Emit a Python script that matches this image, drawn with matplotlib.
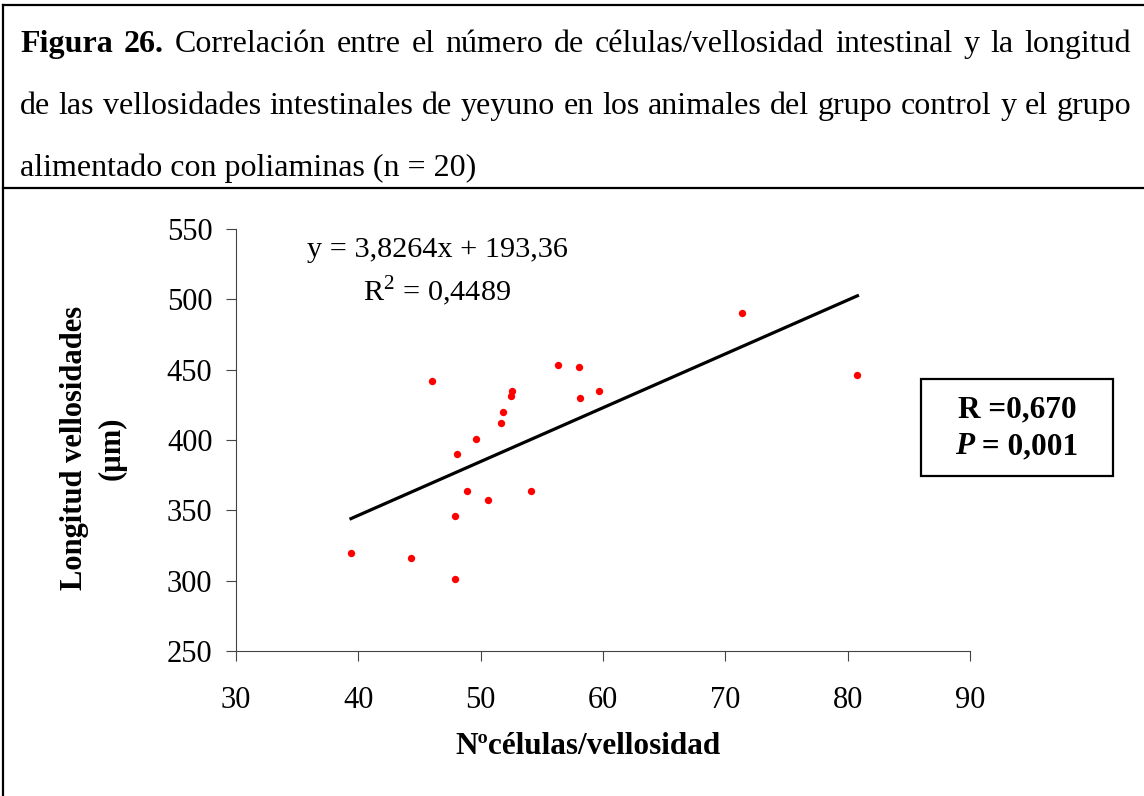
import matplotlib.pyplot as plt
from matplotlib.patches import Rectangle
from matplotlib.lines import Line2D

plt.rcParams['font.family'] = ['Liberation Serif', 'DejaVu Serif']
plt.rcParams['mathtext.fontset'] = 'custom'
plt.rcParams['mathtext.rm'] = 'Liberation Serif'

# data
cells = [39.4, 44.3, 47.9, 47.9, 46.05, 48.1, 48.9, 49.65, 50.6, 51.7,
         51.85, 52.5, 52.6, 54.1, 56.3, 58.0, 58.15, 59.7, 71.4, 80.8]
length = [320, 316, 301, 346, 442, 390, 364, 401, 357, 412,
          420, 431, 435, 364, 453, 452, 430, 435, 490, 446]
slope = 3.8264
intercept = 193.36
x_ticks = [30, 40, 50, 60, 70, 80, 90]
y_ticks = [250, 300, 350, 400, 450, 500, 550]

caption_lines = [
    [("Figura", "bold"), ("26.", "bold"), ("Correlación", "normal"), ("entre", "normal"),
     ("el", "normal"), ("número", "normal"), ("de", "normal"), ("células/vellosidad", "normal"),
     ("intestinal", "normal"), ("y", "normal"), ("la", "normal"), ("longitud", "normal")],
    [(w, "normal") for w in "de las vellosidades intestinales de yeyuno en los animales del grupo control y el grupo".split()],
]
caption_last = "alimentado con poliaminas (n = 20)"

W, H = 1144, 796
fig = plt.figure(figsize=(W / 100, H / 100), dpi=100)

# frame lines
for seg in [([3, 3], [5, H]), ([3, W], [5, 5]), ([3, W], [188, 188])]:
    fig.add_artist(Line2D([p / W for p in seg[0]], [1 - p / H for p in seg[1]],
                          color='black', lw=1.6, transform=fig.transFigure))

# caption, justified lines
renderer = fig.canvas.get_renderer()
x_left, x_right = 20, 1131
baselines = [52, 114, 176]
cap_size = 23
for words, yb in zip(caption_lines, baselines):
    texts = [fig.text(0, 1 - yb / H, w, fontsize=cap_size, weight=wt, va='baseline')
             for w, wt in words]
    widths = [t.get_window_extent(renderer).width for t in texts]
    gap = (x_right - x_left - sum(widths)) / (len(texts) - 1)
    x = x_left
    for t, wd in zip(texts, widths):
        t.set_x(x / W)
        x += wd + gap
fig.text(x_left / W, 1 - baselines[2] / H, caption_last, fontsize=cap_size, va='baseline')

# chart
ax = fig.add_axes([236 / W, 1 - 651 / H, (970 - 236) / W, (651 - 229) / H])
ax.scatter(cells, length, s=28, color='red', zorder=3, linewidths=0)
xl = [min(cells), max(cells)]
ax.plot(xl, [slope * v + intercept for v in xl], color='black', lw=2.3, zorder=2)

ax.set_xlim(30, 90)
ax.set_ylim(250, 550)
ax.set_xticks(x_ticks)
ax.set_yticks(y_ticks)
ax.tick_params(labelsize=22, direction='out', length=7, width=0.8, color='#444444')
ax.tick_params(axis='x', pad=18)
ax.tick_params(axis='y', pad=10)
for s in ['top', 'right']:
    ax.spines[s].set_visible(False)
for s in ['left', 'bottom']:
    ax.spines[s].set_color('#444444')
    ax.spines[s].set_linewidth(0.8)

fig.text(588 / W, 1 - 747 / H, "Nºcélulas/vellosidad", fontsize=22.5, weight='bold',
         ha='center', va='center')
fig.text(75 / W, 1 - 448 / H, "Longitud vellosidades", fontsize=22, weight='bold',
         ha='center', va='center', rotation=90)
fig.text(112 / W, 1 - 448 / H, "(µm)", fontsize=22, weight='bold',
         ha='center', va='center', rotation=90)

fig.text(437 / W, 1 - 250 / H, "y = 3,8264x + 193,36", fontsize=21.8, ha='center', va='center')
fig.text(437 / W, 1 - 291 / H, r"R$^{2}$ = 0,4489", fontsize=21.8, ha='center', va='center')

# R / P box
fig.add_artist(Rectangle((921 / W, 1 - 476 / H), (1113 - 921) / W, (476 - 379) / H,
                         fill=False, lw=1.6, edgecolor='black', transform=fig.transFigure))
fig.text(1017 / W, 1 - 410 / H, "R =0,670", fontsize=22.5, weight='bold', ha='center', va='center')
pt = fig.text(0, 1 - 447 / H, "P", fontsize=22.5, weight='bold', style='italic', va='center')
rest = fig.text(0, 1 - 447 / H, " = 0,001", fontsize=22.5, weight='bold', va='center')
wp = pt.get_window_extent(renderer).width
wr = rest.get_window_extent(renderer).width
x0 = 1017 - (wp + wr) / 2
pt.set_x(x0 / W)
rest.set_x((x0 + wp) / W)

fig.savefig("out.png", dpi=100)
